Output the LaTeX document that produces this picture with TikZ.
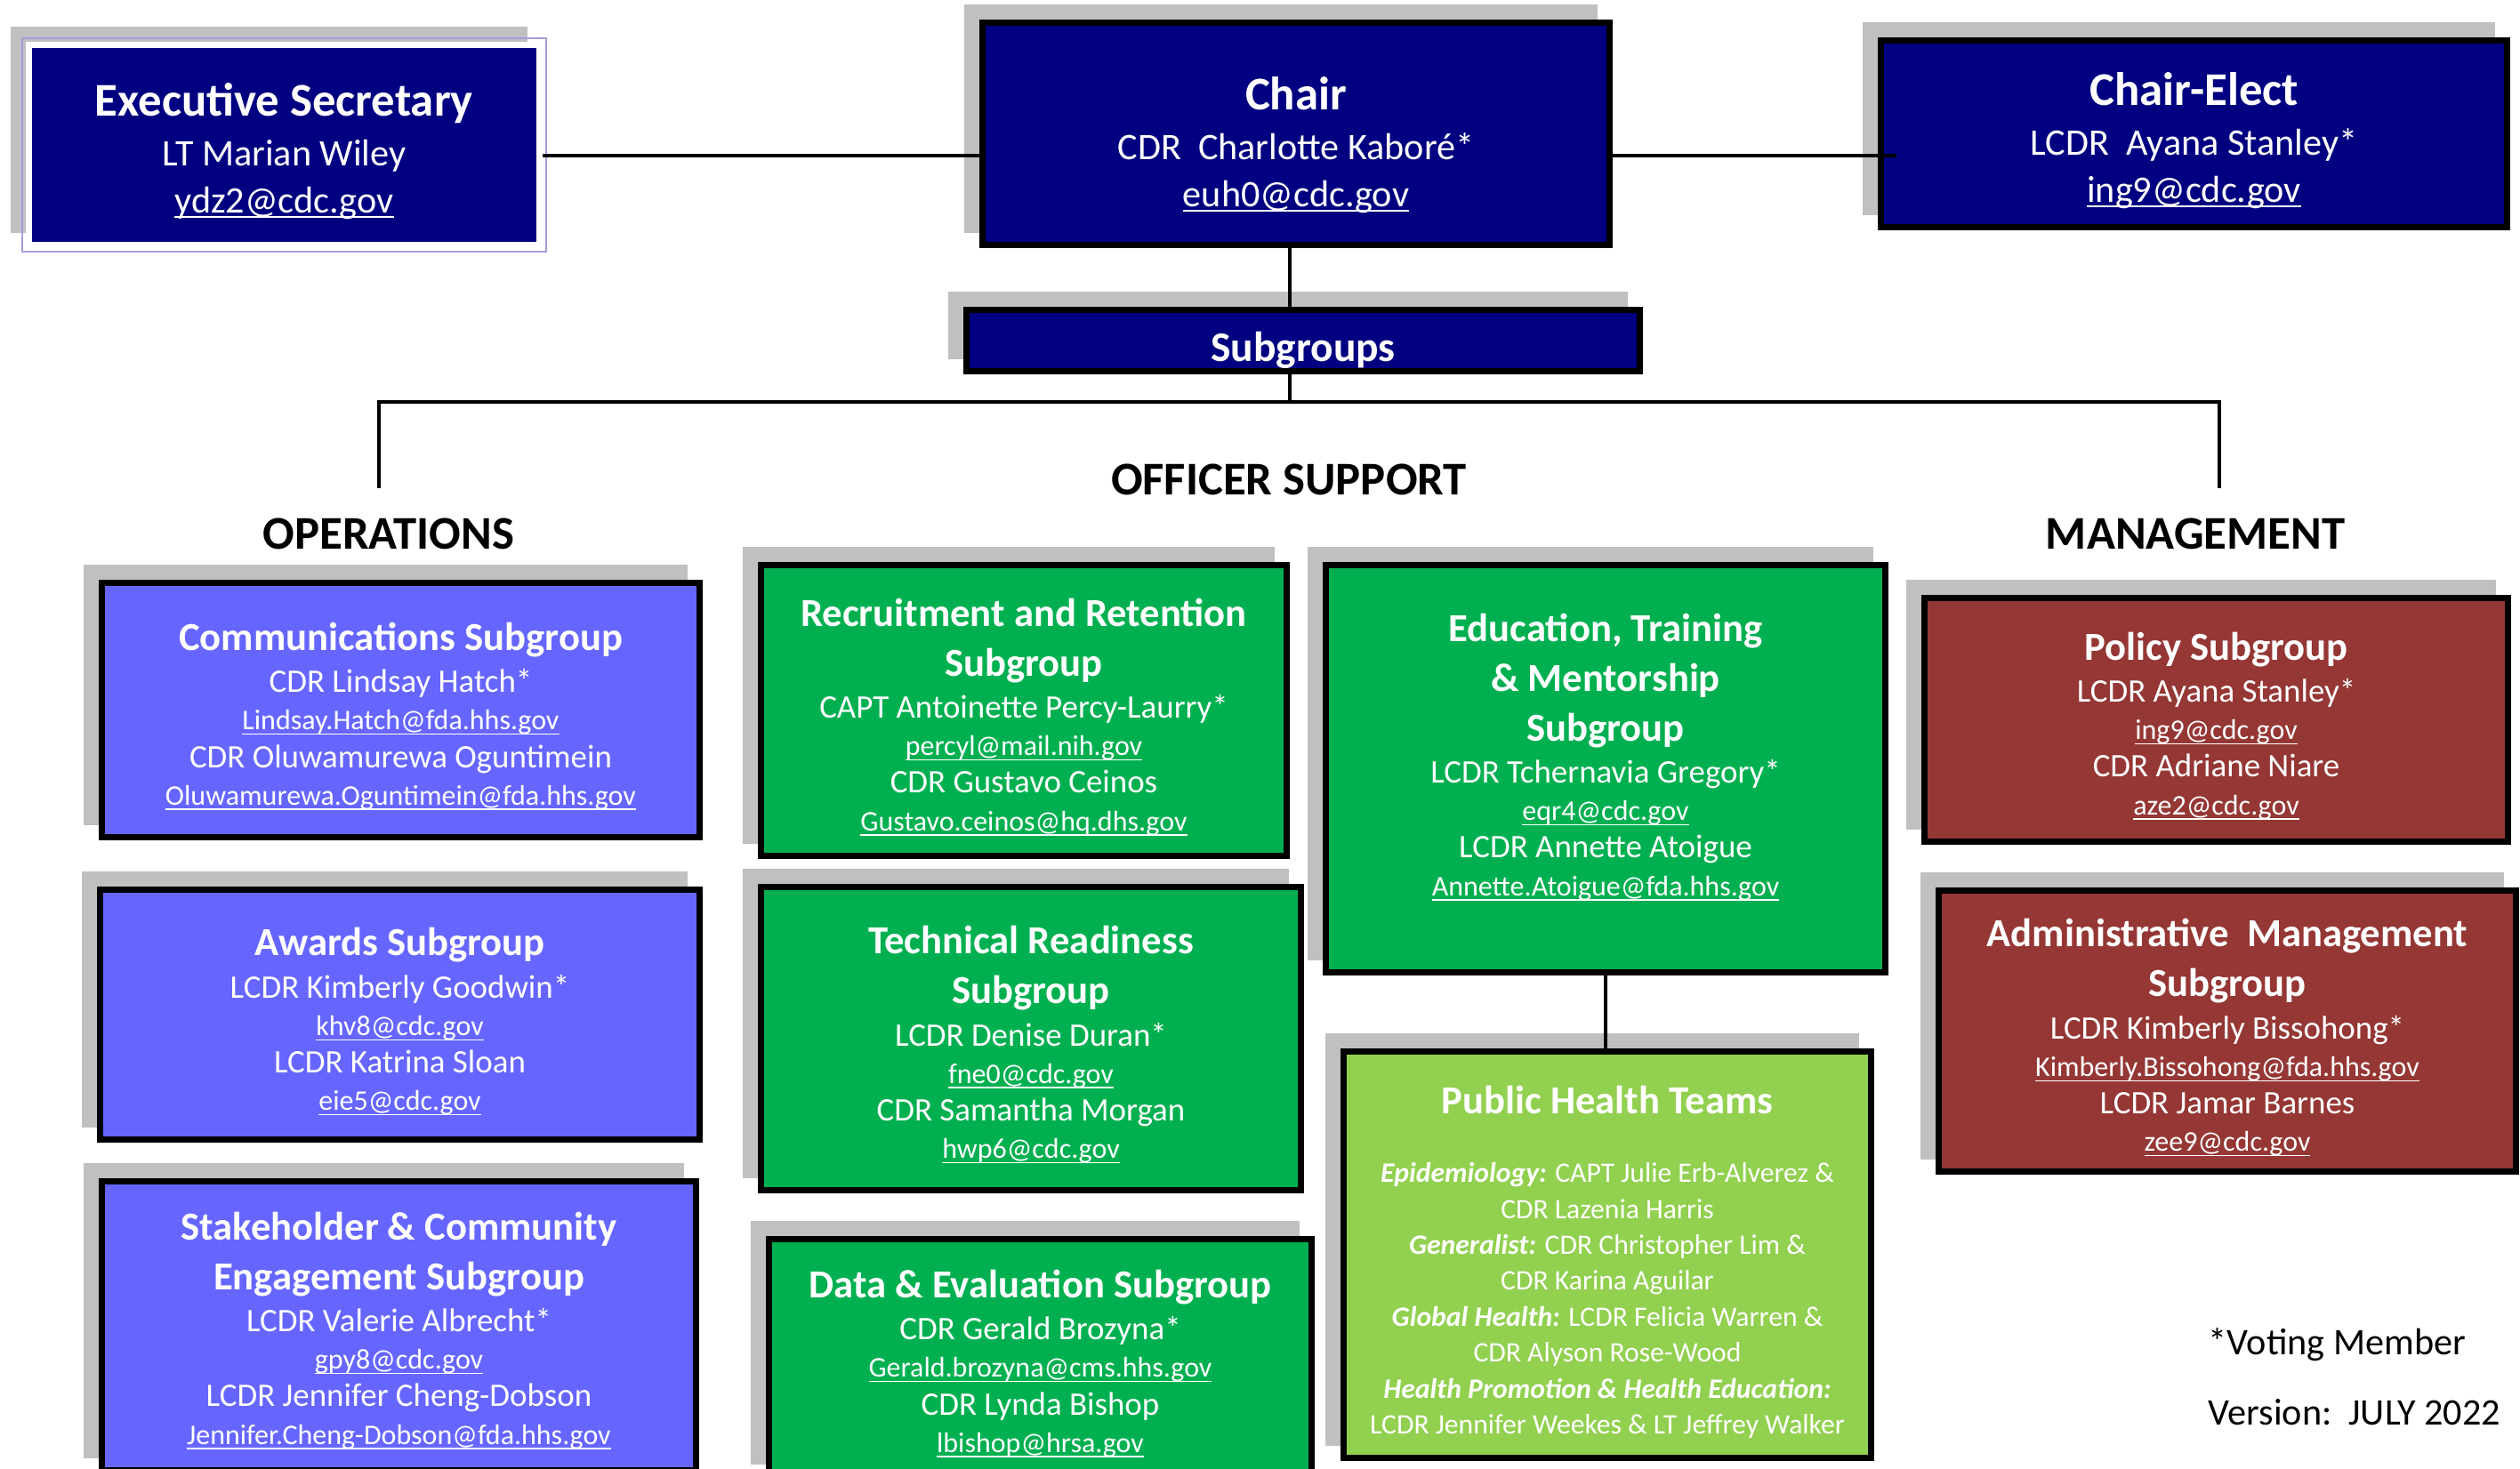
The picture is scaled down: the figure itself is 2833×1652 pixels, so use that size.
\documentclass[tikz,border=0pt]{standalone}
\usepackage{fontspec}
\setmainfont{Carlito}
\usepackage{xcolor}
\usepackage{tikz}

\definecolor{navyblue}{RGB}{0,0,128}
\definecolor{opsblue}{RGB}{102,102,255}
\definecolor{supgreen}{RGB}{0,176,80}
\definecolor{phgreen}{RGB}{146,208,80}
\definecolor{mgmtred}{RGB}{149,55,53}
\definecolor{shadowgray}{RGB}{192,192,192}
\definecolor{lavender}{RGB}{160,160,220}

\newcommand{\ttl}[1]{{\fontsize{12.7}{12}\selectfont\bfseries #1}}
\newcommand{\bigttl}[1]{{\fontsize{15}{15}\selectfont\bfseries #1}}
\newcommand{\mail}[1]{{\fontsize{9.1}{12}\selectfont\underline{\smash{#1}}}}
\newcommand{\topmail}[1]{\underline{\smash{#1}}}
\newcommand{\role}[1]{\textbf{\textit{#1}}}

\tikzset{
  shade box/.style={preaction={fill=shadowgray, draw=shadowgray, line width=2pt,
      transform canvas={xshift=-0.17cm, yshift=0.17cm}}},
  box/.style={shade box, draw=black, line width=2pt, inner sep=0pt},
  topbox/.style={box, fill=navyblue},
  opsbox/.style={box, fill=opsblue},
  supbox/.style={box, fill=supgreen},
  phbox/.style={box, fill=phgreen},
  mgmtbox/.style={box, fill=mgmtred},
  boxtext/.style={text=white, align=center, inner sep=0pt, font=\fontsize{10.5}{12}\selectfont},
  toptext/.style={boxtext, font=\fontsize{12}{15}\selectfont},
  phtext/.style={boxtext, font=\fontsize{9}{11.5}\selectfont},
  head/.style={font=\fontsize{15}{18}\selectfont\bfseries},
  note/.style={anchor=west, inner sep=0pt, font=\fontsize{12}{14}\selectfont},
  link/.style={line width=1.2pt, black}
}

\begin{document}
\begin{tikzpicture}[x=0.01cm,y=-0.01cm]
\useasboundingbox (0,0) rectangle (2833,1652);

% top row
\node[topbox, draw=white, minimum width=5.74cm, minimum height=2.25cm] (exec) at (319.5,163) {};
\draw[lavender, line width=0.4pt] ([shift={(-4,-4)}]exec.north west) rectangle ([shift={(4,4)}]exec.south east);
\node[toptext] (exectext) at (319.5,170)
  {\bigttl{Executive Secretary}\\[0.8pt] LT Marian Wiley\\ \topmail{ydz2@cdc.gov}};
\node[topbox, minimum width=7.05cm, minimum height=2.50cm] (chair) at (1457,150.5) {};
\node[toptext] (chairtext) at (1457,163)
  {\bigttl{Chair}\\[0.8pt] CDR\ \ Charlotte Kaboré*\\ \topmail{euh0@cdc.gov}};
\node[topbox, minimum width=7.04cm, minimum height=2.10cm] (elect) at (2466.5,150.5) {};
\node[toptext] (electtext) at (2466.5,158)
  {\bigttl{Chair-Elect}\\[0.8pt] LCDR\ \ Ayana Stanley*\\ \topmail{ing9@cdc.gov}};
\node[topbox, minimum width=7.57cm, minimum height=0.69cm] (subg) at (1465,383) {};
\node[boxtext, font=\fontsize{13.5}{15}\selectfont\bfseries] (subgtext) at (1465,394) {Subgroups};

% headings
\node[head] (officer) at (1449,539) {OFFICER SUPPORT};
\node[head] (ops) at (437,600) {OPERATIONS};
\node[head] (mgmt) at (2468,600) {MANAGEMENT};

% operations
\node[opsbox, minimum width=6.72cm, minimum height=2.86cm] (comm) at (450.5,798.5) {};
\node[boxtext] (commtext) at (450.5,806)
  {\ttl{Communications Subgroup}\\[1.5pt] CDR Lindsay Hatch*\\ \mail{Lindsay.Hatch@fda.hhs.gov}\\
   CDR Oluwamurewa Oguntimein\\ \mail{Oluwamurewa.Oguntimein@fda.hhs.gov}};
\node[opsbox, minimum width=6.74cm, minimum height=2.81cm] (awards) at (449.5,1141) {};
\node[boxtext] (awardstext) at (449.5,1149.5)
  {\ttl{Awards Subgroup}\\[1.5pt] LCDR Kimberly Goodwin*\\ \mail{khv8@cdc.gov}\\
   LCDR Katrina Sloan\\ \mail{eie5@cdc.gov}};
\node[opsbox, minimum width=6.68cm, minimum height=3.25cm] (stake) at (448.5,1491) {};
\node[boxtext] (staketext) at (448.5,1497)
  {\ttl{Stakeholder \& Community}\\[3.9pt] \ttl{Engagement Subgroup}\\[1.5pt] LCDR Valerie Albrecht*\\
   \mail{gpy8@cdc.gov}\\ LCDR Jennifer Cheng-Dobson\\ \mail{Jennifer.Cheng-Dobson@fda.hhs.gov}};

% officer support
\node[supbox, minimum width=5.91cm, minimum height=3.27cm] (recruit) at (1151,799) {};
\node[boxtext] (recruittext) at (1151,807)
  {\ttl{Recruitment and Retention}\\[3.9pt] \ttl{Subgroup}\\[1.5pt] CAPT Antoinette Percy-Laurry*\\
   \mail{percyl@mail.nih.gov}\\ CDR Gustavo Ceinos\\ \mail{Gustavo.ceinos@hq.dhs.gov}};
\node[supbox, minimum width=6.07cm, minimum height=3.41cm] (tech) at (1159,1168) {};
\node[boxtext] (techtext) at (1159,1175.5)
  {\ttl{Technical Readiness}\\[3.9pt] \ttl{Subgroup}\\[1.5pt] LCDR Denise Duran*\\
   \mail{fne0@cdc.gov}\\ CDR Samantha Morgan\\ \mail{hwp6@cdc.gov}};
\node[supbox, minimum width=6.10cm, minimum height=2.67cm] (data) at (1169.5,1527) {};
\node[boxtext] (datatext) at (1169.5,1534)
  {\ttl{Data \& Evaluation Subgroup}\\[1.5pt] CDR Gerald Brozyna*\\ \mail{Gerald.brozyna@cms.hhs.gov}\\
   CDR Lynda Bishop\\ \mail{lbishop@hrsa.gov}};
\node[supbox, minimum width=6.29cm, minimum height=4.58cm] (edu) at (1805,864.5) {};
\node[boxtext] (edutext) at (1805,852)
  {\ttl{Education, Training}\\[3.9pt] \ttl{\& Mentorship}\\[3.9pt] \ttl{Subgroup}\\[1.5pt]
   LCDR Tchernavia Gregory*\\ \mail{eqr4@cdc.gov}\\ LCDR Annette Atoigue\\ \mail{Annette.Atoigue@fda.hhs.gov}};
\node[phbox, minimum width=5.93cm, minimum height=4.57cm] (ph) at (1807,1411) {};
\node[phtext] (phtext) at (1807,1419.5)
  {\ttl{Public Health Teams}\\[10.4pt]
   \role{Epidemiology:} CAPT Julie Erb-Alverez \&\\ CDR Lazenia Harris\\
   \role{Generalist:} CDR Christopher Lim \&\\ CDR Karina Aguilar\\
   \role{Global Health:} LCDR Felicia Warren \&\\ CDR Alyson Rose-Wood\\
   \role{Health Promotion \& Health Education:}\\ LCDR Jennifer Weekes \& LT Jeffrey Walker};

% management
\node[mgmtbox, minimum width=6.56cm, minimum height=2.74cm] (policy) at (2491.5,809.5) {};
\node[boxtext] (policytext) at (2491.5,817)
  {\ttl{Policy Subgroup}\\[1.5pt] LCDR Ayana Stanley*\\ \mail{ing9@cdc.gov}\\
   CDR Adriane Niare\\ \mail{aze2@cdc.gov}};
\node[mgmtbox, minimum width=6.49cm, minimum height=3.16cm] (admin) at (2504,1159.5) {};
\node[boxtext] (admintext) at (2504,1167.5)
  {\ttl{Administrative\ \ Management}\\[3.9pt] \ttl{Subgroup}\\[1.5pt] LCDR Kimberly Bissohong*\\
   \mail{Kimberly.Bissohong@fda.hhs.gov}\\ LCDR Jamar Barnes\\ \mail{zee9@cdc.gov}};

\node[note] (vote) at (2482,1512) {*Voting Member};
\node[note] (version) at (2482,1588) {Version:\ \ JULY 2022};

% connectors
\coordinate (tie) at (0,175);
\coordinate (spine) at (1450,0);
\coordinate (bus) at (0,452);
\coordinate (opsdrop) at (426,549);
\coordinate (mgmtdrop) at (2495,549);
\draw[link] (exec.east |- tie) -- (chair.west |- tie);
\draw[link] (chair.east |- tie) -- ([xshift=6]elect.west |- tie);
\draw[link] (chair.south -| spine) -- (subg.north -| spine);
\draw[link] (subg.south -| spine) -- (spine |- bus);
\draw[link] (opsdrop) |- (mgmtdrop |- bus) -- (mgmtdrop);
\draw[link] (edu.south) -- (edu.south |- ph.north);

\end{tikzpicture}
\end{document}
